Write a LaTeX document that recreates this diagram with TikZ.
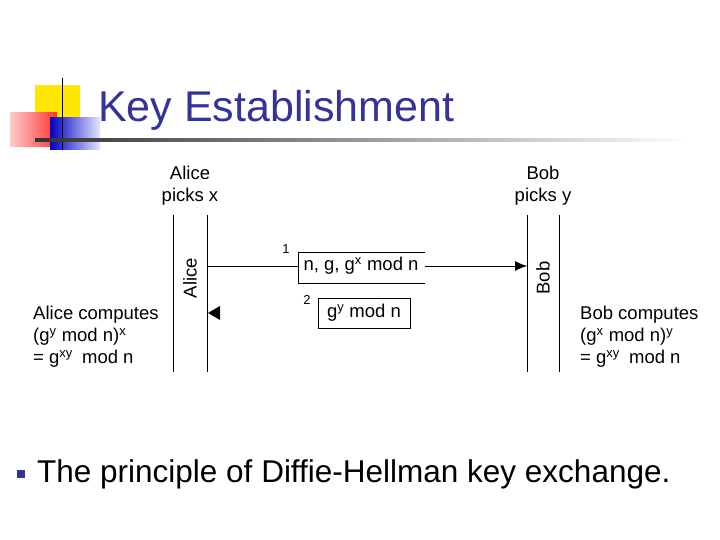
\documentclass[tikz,border=0pt]{standalone}
\usepackage{fontspec}
\setmainfont{Liberation Sans}
\usetikzlibrary{arrows.meta}
\definecolor{titleblue}{HTML}{333399}
\begin{document}
\begin{tikzpicture}[x=1pt,y=-1pt,
  lbl/.style={font=\fontsize{18.5}{22}\selectfont,inner sep=0pt},
  lifeline/.style={line width=0.8pt},
  msg/.style={draw,line width=0.8pt,inner sep=0pt,minimum height=31pt}]
\useasboundingbox (0,0) rectangle (720,540);
% logo
\fill[yellow!90!orange] (35,85) rectangle (80,130);
\shade[left color=red!20, right color=red!80] (10,113) rectangle (57,147);
\shade[left color=blue!75!black, right color=blue!10] (50,118) rectangle (100,150);
\draw[line width=1pt] (62,78) -- (62,150);
\shade[left color=black!80, right color=white] (35,139) rectangle (690,142);
\node[anchor=west,text=titleblue,font=\fontsize{43}{45}\selectfont,inner sep=0pt] (title) at (98,110) {Key Establishment};
% lifelines
\coordinate (a1t) at (173,215); \coordinate (a1b) at (173,372);
\coordinate (a2t) at (207,215); \coordinate (a2b) at (207,372);
\coordinate (b1t) at (527,215); \coordinate (b1b) at (527,372);
\coordinate (b2t) at (559,215); \coordinate (b2b) at (559,372);
\draw[lifeline] (a1t)--(a1b) (a2t)--(a2b) (b1t)--(b1b) (b2t)--(b2b);
\node[lbl,align=center] (alice) at (190,186) {Alice\\picks x};
\node[lbl,align=center] (bob) at (543,186) {Bob\\picks y};
\node[lbl,rotate=90] (alicev) at (190,278) {Alice};
\node[lbl,rotate=90] (bobv) at (543,278) {Bob};
% message 1
\coordinate (m1s) at (207,266);
\coordinate (m1e) at (527,266);
\coordinate (bx1a) at (298,252); \coordinate (bx1b) at (298,283);
\coordinate (bx1c) at (425,252); \coordinate (bx1d) at (425,283);
\draw[line width=0.8pt] (bx1c)--(bx1a)--(bx1b)--(bx1d);
\node[lbl] (m1) at (361,266) {n, g, g$^{\mathrm{x}}$ mod n};
\draw[line width=0.8pt] (m1s)--(bx1a|-m1s);
\draw[line width=0.8pt,-{Latex[length=12pt,width=10pt]}] (bx1c|-m1s)--(m1e);
\node[lbl,font=\fontsize{13}{15}\selectfont] (n1) at (286,249) {1};
% message 2
\node[msg,minimum width=92pt,lbl,minimum height=30pt,draw] (m2) at (364,313) {g$^{\mathrm{y}}$ mod n};
\node[lbl,font=\fontsize{13}{15}\selectfont] (n2) at (307,300) {2};
\coordinate (h2) at (220,313);
\fill (h2) ++(0,-7) -- ++(-12,7) -- ++(12,7) -- cycle;
% computations
\node[lbl,anchor=north west,align=left] (ac) at (33,306) {Alice computes\\(g$^{\mathrm{y}}$ mod n)$^{\mathrm{x}}$\\= g$^{\mathrm{xy}}$\enspace mod n};
\node[lbl,anchor=north west,align=left] (bc) at (580,306) {Bob computes\\(g$^{\mathrm{x}}$ mod n)$^{\mathrm{y}}$\\= g$^{\mathrm{xy}}$\enspace mod n};
% bullet
\fill[titleblue] (17,470) rectangle (25,478);
\node[anchor=west,inner sep=0pt,font=\fontsize{31.5}{34}\selectfont] (bul) at (37,474) {The principle of Diffie-Hellman key exchange.};
\end{tikzpicture}
\end{document}
